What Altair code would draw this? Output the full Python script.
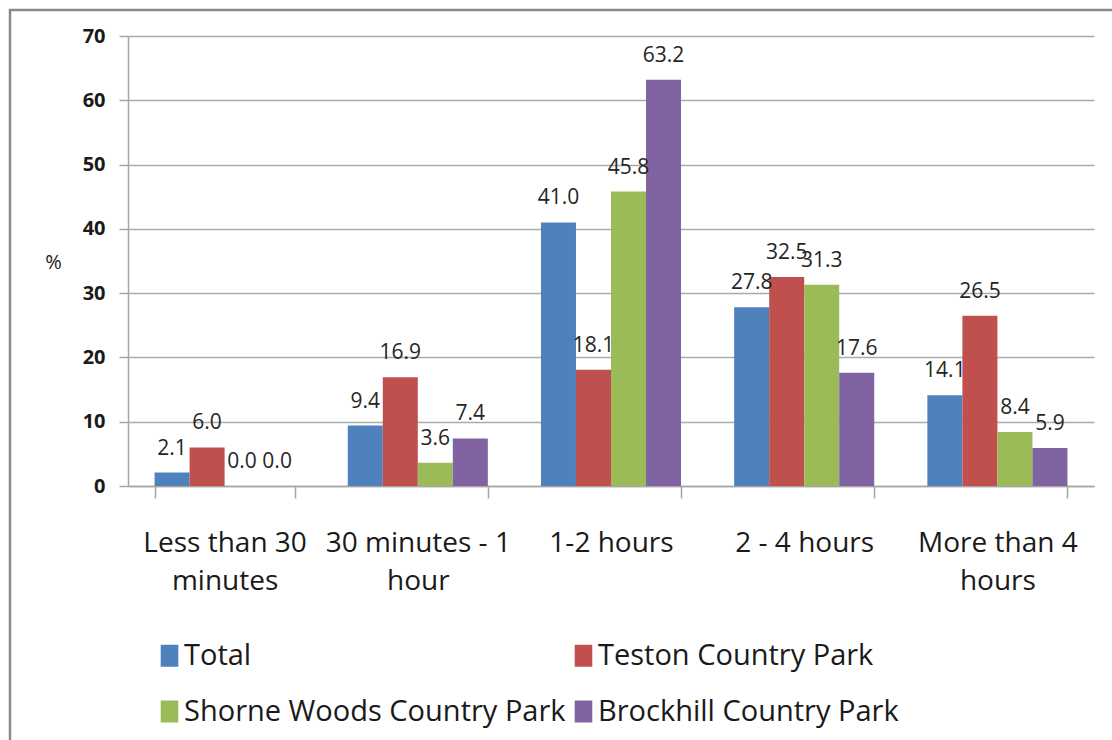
import altair as alt
import pandas as pd

categories = ["Less than 30 minutes", "30 minutes - 1 hour", "1-2 hours", "2 - 4 hours", "More than 4 hours"]
category_lines = [["Less than 30", "minutes"], ["30 minutes - 1", "hour"], ["1-2 hours"], ["2 - 4 hours"], ["More than 4", "hours"]]
series = ["Total", "Teston Country Park", "Shorne Woods Country Park", "Brockhill Country Park"]
colors = ["#4F81BD", "#C0504D", "#9BBB59", "#8064A2"]

total = [2.1, 9.4, 41.0, 27.8, 14.1]
teston = [6.0, 16.9, 18.1, 32.5, 26.5]
shorne = [0.0, 3.6, 45.8, 31.3, 8.4]
brockhill = [0.0, 7.4, 63.2, 17.6, 5.9]

y_ticks = [0, 10, 20, 30, 40, 50, 60, 70]

rows = []
for s, vals in zip(series, [total, teston, shorne, brockhill]):
    for c, v in zip(categories, vals):
        rows.append({"cat": c, "series": s, "value": v})
df = pd.DataFrame(rows)

# multi-line x labels
expr_parts = []
for c, lines in zip(categories, category_lines):
    arr = "[" + ",".join("'" + l + "'" for l in lines) + "]"
    expr_parts.append(f"datum.value == '{c}' ? {arr} : ")
label_expr = "".join(expr_parts) + "datum.label"

FONT = "Open Sans"

x_enc = alt.X(
    "cat:N",
    sort=categories,
    scale=alt.Scale(paddingInner=0.275, paddingOuter=0.1375),
    axis=alt.Axis(
        title=None,
        labelAngle=0,
        labelExpr=label_expr,
        labelFont=FONT,
        labelFontSize=28,
        labelColor="#1a1a1a",
        labelLineHeight=38,
        labelPadding=31,
        labelLimit=400,
        tickBand="extent",
        tickSize=12,
        tickColor="#A6A6A6",
        domainColor="#A6A6A6",
        domainWidth=1.5,
        tickWidth=1.5,
        grid=False,
    ),
)
xoff_enc = alt.XOffset("series:N", sort=series, scale=alt.Scale(paddingInner=0, paddingOuter=0))
y_enc = alt.Y(
    "value:Q",
    scale=alt.Scale(domain=[0, 70], nice=False),
    axis=alt.Axis(
        values=y_ticks,
        title="%",
        titleAngle=0,
        titleX=-75,
        titleY=226,
        titleAlign="center",
        titleBaseline="middle",
        titleFont=FONT,
        titleFontSize=20,
        titleFontWeight="normal",
        titleColor="#1a1a1a",
        labelFont=FONT,
        labelFontSize=20,
        labelFontWeight="bold",
        labelColor="#1a1a1a",
        labelPadding=14,
        tickSize=9,
        tickColor="#A6A6A6",
        tickWidth=1.5,
        domainColor="#A6A6A6",
        domainWidth=1.5,
        gridColor="#ABABAB",
        gridWidth=1.5,
    ),
)

frame = alt.Chart(alt.Data(values=[{"a": 1}])).mark_rect(
    fill="transparent", stroke="#8A8A8A", strokeWidth=2.5
).encode(
    x=alt.value(-118), x2=alt.value(1010), y=alt.value(-26), y2=alt.value(730)
)

bars = alt.Chart(df).mark_bar().encode(
    x=x_enc,
    xOffset=xoff_enc,
    y=y_enc,
    color=alt.Color(
        "series:N",
        sort=series,
        scale=alt.Scale(domain=series, range=colors),
        legend=alt.Legend(
            title=None,
            orient="none",
            direction="horizontal",
            legendX=27,
            legendY=605,
            columns=2,
            columnPadding=3,
            rowPadding=26,
            symbolType="M-0.8,-1H0.8V1H-0.8Z",
            symbolSize=484,
            symbolStrokeWidth=0,
            labelFont=FONT,
            labelFontSize=29,
            labelColor="#1a1a1a",
            labelOffset=0,
            labelLimit=1000,
            padding=0,
        ),
    ),
)

labels = alt.Chart(df).mark_text(
    font=FONT, fontSize=21, color="#262626", baseline="middle", align="center", dy=-24
).encode(
    x=alt.X("cat:N", sort=categories),
    xOffset=alt.XOffset("series:N", sort=series),
    y=alt.Y("value:Q"),
    text=alt.Text("value:Q", format=".1f"),
)

chart = alt.layer(frame, bars, labels).properties(
    width=966,
    height=450,
    autosize=alt.AutoSizeParams(type="none"),
    padding={"left": 128, "top": 36, "right": 18, "bottom": 254},
    background="white",
).configure_view(strokeWidth=0)

chart.save("out.html", embed_options={"renderer": "svg", "actions": False})
